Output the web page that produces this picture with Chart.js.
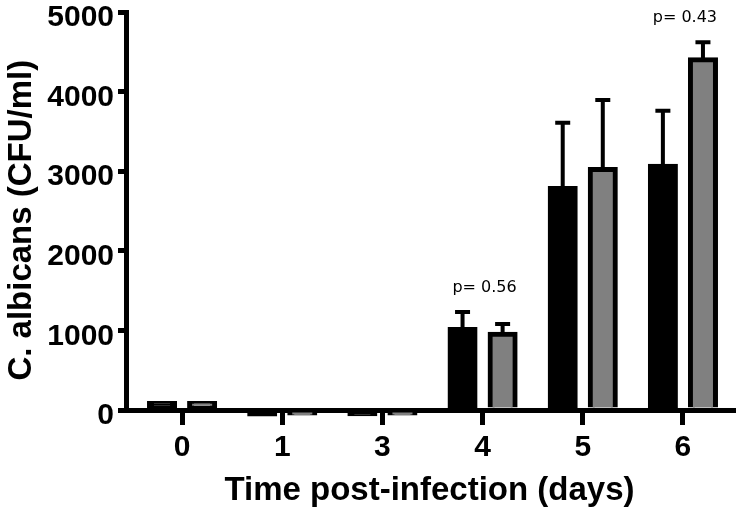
<!DOCTYPE html>
<html>
<head>
<meta charset="utf-8">
<script src="https://cdn.jsdelivr.net/npm/chart.js@4"></script>
<style>
  html, body { margin: 0; padding: 0; background: #fff; }
  #c { display: block; }
</style>
</head>
<body>
<canvas id="c" width="740" height="516"></canvas>
<script>
// ---- data ----
const days = ['0', '1', '3', '4', '5', '6'];
const seriesBlack = [100, -70, -65, 1030, 2800, 3080];
const seriesGray  = [100, -55, -55, 970, 3040, 4420];
const errBlack = [0, 0, 0, 200, 810, 680];
const errGray  = [0, 0, 0, 110, 855, 200];
const pLabels = ['', '', '', 'p= 0.56', '', 'p= 0.43'];
const yTicks = [0, 1000, 2000, 3000, 4000, 5000];

const errorBars = {
  id: 'errorBars',
  afterDatasetsDraw(chart) {
    const ctx = chart.ctx;
    const y = chart.scales.y;
    const errs = [errBlack, errGray];
    ctx.save();
    ctx.strokeStyle = '#000';
    ctx.lineWidth = 4;
    chart.data.datasets.forEach((ds, di) => {
      const meta = chart.getDatasetMeta(di);
      meta.data.forEach((bar, i) => {
        const e = errs[di][i];
        if (!e) return;
        const top = y.getPixelForValue(ds.data[i] + e);
        ctx.beginPath();
        ctx.moveTo(bar.x, bar.y);
        ctx.lineTo(bar.x, top);
        ctx.moveTo(bar.x - 7.5, top);
        ctx.lineTo(bar.x + 7.5, top);
        ctx.stroke();
      });
    });
    ctx.restore();
  }
};

const pText = {
  id: 'pText',
  afterDatasetsDraw(chart) {
    const ctx = chart.ctx;
    const x = chart.scales.x, y = chart.scales.y;
    ctx.save();
    ctx.fillStyle = '#000';
    ctx.font = '16px "DejaVu Sans"';
    ctx.textAlign = 'center';
    ctx.textBaseline = 'middle';
    pLabels.forEach((t, i) => {
      if (!t) return;
      const m = Math.max(seriesBlack[i] + errBlack[i], seriesGray[i] + errGray[i]);
      ctx.fillText(t, x.getPixelForValue(i) + 2, y.getPixelForValue(m) - 24);
    });
    ctx.restore();
  }
};

const shiftAxes = {
  id: 'shiftAxes',
  afterLayout(chart) {
    const y = chart.scales.y, x = chart.scales.x;
    y.left -= 6; y.right -= 6;
    x.left -= 6;
  }
};

const skipBase = (c) => Math.abs(c.raw) < 500 ? false : 'start';

new Chart(document.getElementById('c'), {
  type: 'bar',
  data: {
    labels: days,
    datasets: [
      { data: seriesBlack, backgroundColor: '#000000', borderColor: '#000000', borderWidth: 5, borderSkipped: false, inflateAmount: 1, clip: false },
      { data: seriesGray, backgroundColor: '#808080', borderColor: '#000000', borderWidth: 5, borderSkipped: skipBase, inflateAmount: 1, clip: false }
    ]
  },
  options: {
    responsive: false,
    animation: false,
    devicePixelRatio: 1,
    layout: { padding: { left: 0, right: 7, top: 12, bottom: 0 } },
    datasets: { bar: { categoryPercentage: 0.8, barPercentage: 0.7 } },
    plugins: { legend: { display: false }, tooltip: { enabled: false } },
    scales: {
      x: {
        z: 1,
        grid: { offset: false, drawOnChartArea: false, drawTicks: true, tickLength: 15, lineWidth: 5, tickWidth: 5, color: '#000', tickColor: '#000' },
        border: { display: true, width: 5, color: '#000' },
        ticks: { color: '#000', font: { family: 'Liberation Sans', weight: 'bold', size: 30 }, padding: 5, maxRotation: 0 },
        title: { display: true, text: 'Time post-infection (days)', color: '#000', font: { family: 'Liberation Sans', weight: 'bold', size: 33 }, padding: { top: 0, bottom: 5 } },
        afterFit(s) { s.height = 106; s.paddingLeft = 0; s.paddingRight = 0; }
      },
      y: {
        z: 1,
        min: 0,
        max: 5000,
        afterBuildTicks(s) { s.ticks = yTicks.map(v => ({ value: v })); },
        grid: { drawOnChartArea: false, drawTicks: true, tickLength: 8, lineWidth: 5, tickWidth: 5, color: '#000', tickColor: '#000' },
        border: { display: true, width: 5, color: '#000' },
        ticks: { color: '#000', font: { family: 'Liberation Sans', weight: 'bold', size: 30 }, padding: 4, labelOffset: 6, callback: (v) => String(v) },
        title: { display: true, text: 'C. albicans (CFU/ml)  ', color: '#000', font: { family: 'Liberation Sans', weight: 'bold', size: 33 }, padding: { top: 8, bottom: 0 } },
        afterFit(s) { s.width = 132; s.paddingTop = 0; s.paddingBottom = 0; }
      }
    }
  },
  plugins: [errorBars, pText, shiftAxes]
});
</script>
</body>
</html>
